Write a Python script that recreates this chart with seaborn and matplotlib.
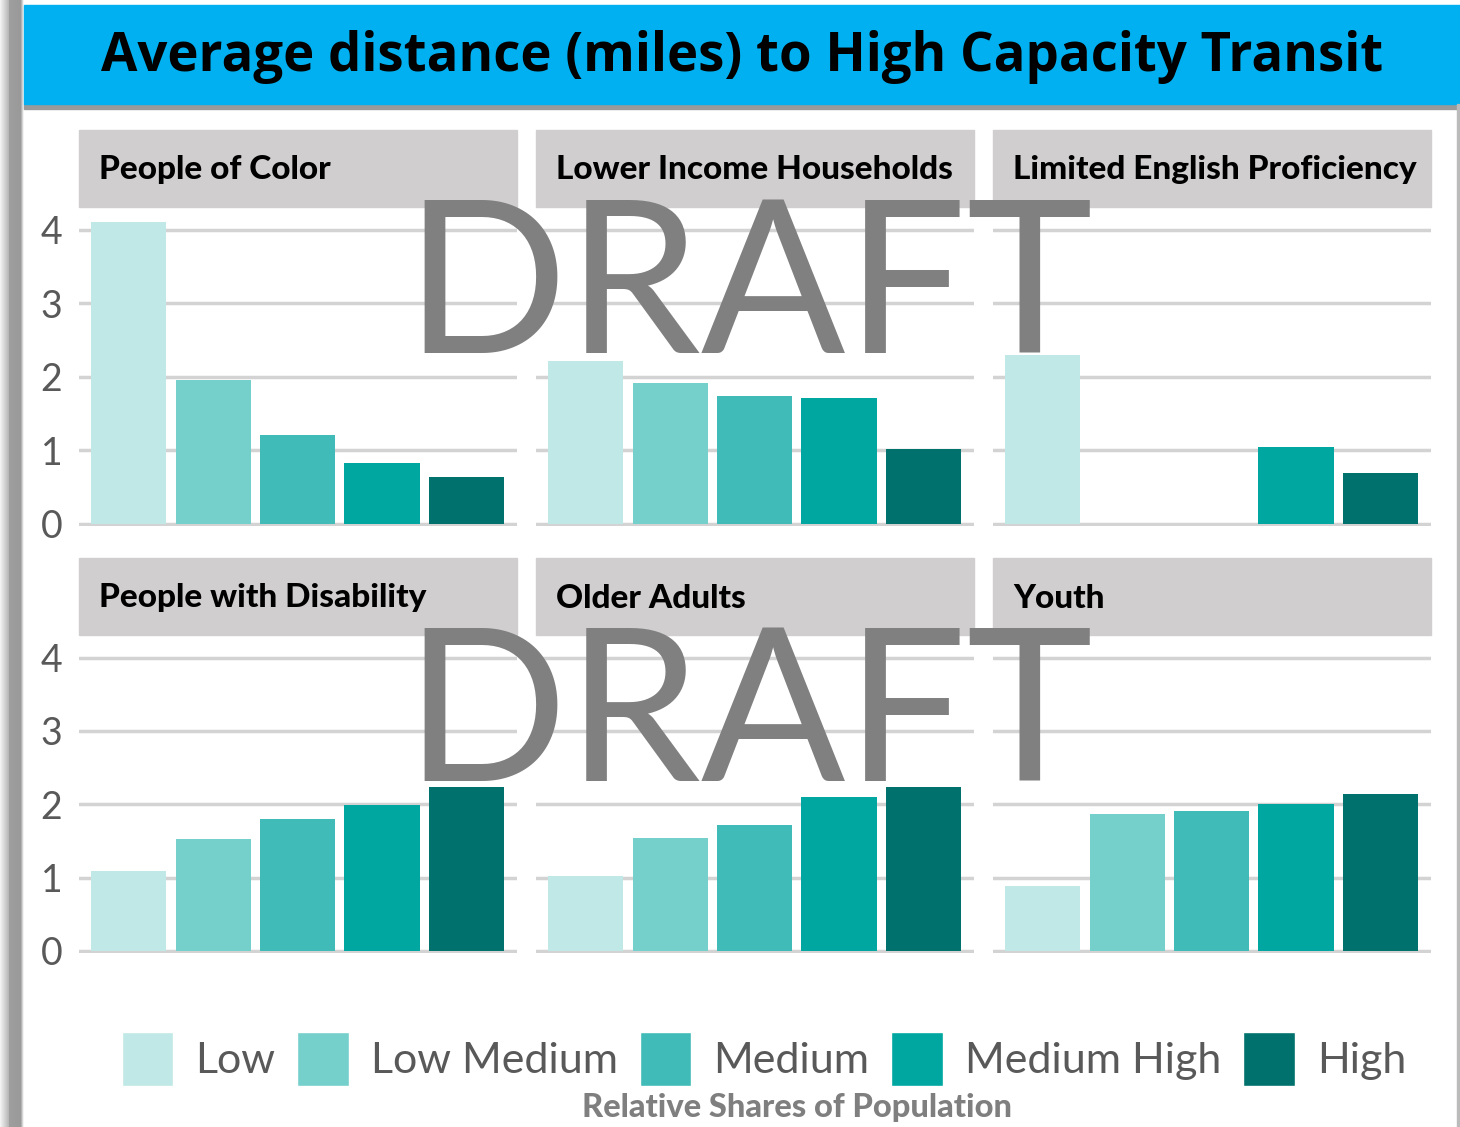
import numpy as np
import pandas as pd
import seaborn as sns
import matplotlib.pyplot as plt
from matplotlib.patches import Rectangle, Patch

# data
groups = ['People of Color', 'Lower Income Households', 'Limited English Proficiency',
          'People with Disability', 'Older Adults', 'Youth']
levels = ['Low', 'Low Medium', 'Medium', 'Medium High', 'High']
people_of_color = [4.11, 1.95, 1.21, 0.83, 0.63]
lower_income = [2.22, 1.92, 1.74, 1.71, 1.02]
limited_english = [2.30, np.nan, np.nan, 1.05, 0.69]
disability = [1.09, 1.52, 1.80, 1.99, 2.23]
older_adults = [1.02, 1.54, 1.72, 2.10, 2.24]
youth = [0.89, 1.87, 1.91, 2.01, 2.14]
yticks = [0, 1, 2, 3, 4]
colors = ['#C0E8E6', '#75CFCB', '#40BBB7', '#00A6A0', '#00716C']

series = [people_of_color, lower_income, limited_english, disability, older_adults, youth]
rows = []
for g, vals in zip(groups, series):
    for lvl, v in zip(levels, vals):
        rows.append({'group': g, 'level': lvl, 'value': v})
df = pd.DataFrame(rows)

sns.set_theme(style='white')
plt.rcParams['font.family'] = ['Lato', 'DejaVu Sans']

W, H = 1460, 1127
def fx(x):
    return x / W
def fy(y):
    return 1 - y / H

fig = plt.figure(figsize=(14.6, 11.27), dpi=100)

# left shadow band
band = fig.add_axes([0, 0, fx(24), 1])
grad = np.concatenate([np.linspace(0.95, 0.72, 9), np.linspace(0.62, 0.6, 12), np.linspace(0.7, 0.95, 3)])
band.imshow(np.tile(grad, (10, 1)), cmap='gray', vmin=0, vmax=1, aspect='auto')
band.axis('off')

# title banner + shadow
fig.patches.append(Rectangle((fx(24), fy(109)), 1, 5 / H, color='#9A9A9A', transform=fig.transFigure))
fig.patches.append(Rectangle((fx(24), fy(104)), 1, 99 / H, color='#00B0F0', transform=fig.transFigure))
fig.text(fx(742), fy(57), 'Average distance (miles) to High Capacity Transit', ha='center', va='center',
         fontsize=38, fontweight='bold', color='black', family=['Open Sans', 'DejaVu Sans'])
fig.patches.append(Rectangle((fx(1457), 0), 2 / W, fy(104), color='#BBBBBB', transform=fig.transFigure))

lefts = [79, 536, 993]
tops = [207, 635]
bottoms = [526, 953]
for i, g in enumerate(groups):
    r, c = divmod(i, 3)
    left, top, bottom = lefts[c], tops[r], bottoms[r]
    ax = fig.add_axes([fx(left), fy(bottom), 438 / W, (bottom - top) / H])
    sub = df[df['group'] == g]
    sns.barplot(data=sub, x='level', y='value', hue='level', order=levels, hue_order=levels,
                palette=colors, saturation=1, width=0.89, legend=False, linewidth=0, ax=ax)
    ax.set_xlim(-0.59, 4.6)
    ax.set_ylim(-0.03, 4.31)
    ax.set_yticks(yticks)
    ax.grid(axis='y', color='#D3D3D3', lw=2.5)
    ax.set_axisbelow(True)
    for s in ax.spines.values():
        s.set_visible(False)
    ax.set_xticks([])
    ax.set_xlabel('')
    ax.set_ylabel('')
    if c == 0:
        ax.tick_params(axis='y', length=0, pad=12, labelsize=27, labelcolor='#595959')
    else:
        ax.set_yticklabels([])
        ax.tick_params(axis='y', length=0)
    # facet strip
    fig.patches.append(Rectangle((fx(left), fy(top)), 438 / W, 77 / H, color='#D0CECF',
                                 transform=fig.transFigure))
    fig.text(fx(left + 20), fy(top - 37), g, ha='left', va='center', fontsize=24,
             fontweight='black', color='black')

# watermark
for yc in [293, 721]:
    fig.text(fx(749), fy(yc), 'DRAFT', ha='center', va='center', fontsize=154,
             color='#808080', zorder=10)

handles = [Patch(facecolor=col, label=lvl) for col, lvl in zip(colors, levels)]
fig.legend(handles=handles, loc='center', bbox_to_anchor=(fx(764), fy(1059)), ncol=5, frameon=False,
           handlelength=1.2, handleheight=1.56, handletextpad=0.51, columnspacing=0.51,
           labelcolor='#595959', prop={'weight': 'normal', 'size': 31})
fig.text(fx(797), fy(1108), 'Relative Shares of Population', ha='center', va='center',
         fontsize=23.5, fontweight='black', color='#7F7F7F')

fig.savefig('out.png', dpi=100)
